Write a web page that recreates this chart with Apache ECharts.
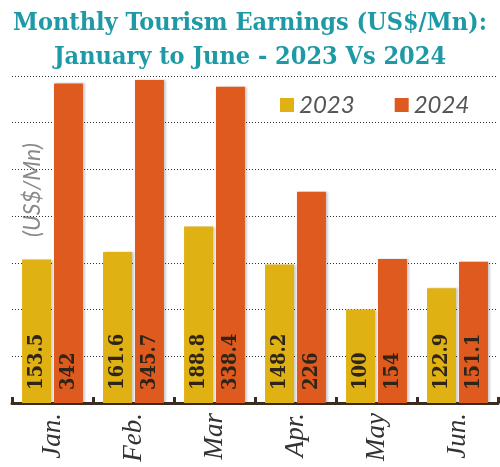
<!DOCTYPE html>
<html>
<head>
<meta charset="utf-8">
<script src="https://cdn.jsdelivr.net/npm/echarts@6/dist/echarts.min.js"></script>
<style>
  html, body { margin: 0; padding: 0; background: #fff; }
  #chart { width: 500px; height: 467px; }
</style>
</head>
<body>
<div id="chart"></div>
<script>
// data
const months = ['Jan.', 'Feb.', 'Mar', 'Apr.', 'May', 'Jun.'];
const earnings2023 = [153.5, 161.6, 188.8, 148.2, 100, 122.9];
const earnings2024 = [342, 345.7, 338.4, 226, 154, 151.1];
const seriesNames = ['2023', '2024'];

const barLabel = {
  show: true,
  position: 'insideBottom',
  rotate: 90,
  align: 'left',
  verticalAlign: 'middle',
  distance: 13,
  color: '#2e2418',
  fontFamily: 'DejaVu Serif Condensed',
  fontWeight: 'bold',
  fontSize: 20,
};

const chart = echarts.init(document.getElementById('chart'));
chart.setOption({
  animation: false,
  title: {
    text: 'Monthly Tourism Earnings (US$/Mn):\nJanuary to June - 2023 Vs 2024',
    left: 'center',
    top: 1,
    textStyle: {
      color: '#1d9aa5',
      fontFamily: 'DejaVu Serif Condensed',
      fontWeight: 'bold',
      fontSize: 25,
      lineHeight: 34,
    },
  },
  legend: {
    left: 275,
    top: 88,
    icon: 'rect',
    itemWidth: 14,
    itemHeight: 14,
    itemGap: 40,
    textStyle: {
      color: '#555',
      fontFamily: 'Lato',
      fontStyle: 'italic',
      fontSize: 24,
    },
  },
  graphic: [{
    type: 'text',
    x: 33,
    y: 190,
    rotation: Math.PI / 2,
    style: {
      text: '(US$/Mn)',
      fill: '#8a8a8a',
      fontFamily: 'Lato',
      fontStyle: 'italic',
      fontSize: 23,
      textAlign: 'center',
      textVerticalAlign: 'middle',
      backgroundColor: '#fff',
      padding: [0, 4],
    },
  }],
  grid: { left: 12, right: 2, top: 76, bottom: 64 },
  xAxis: {
    type: 'category',
    data: months,
    axisLine: { lineStyle: { color: '#3a2c20', width: 3 } },
    axisTick: { show: true, inside: true, length: 6, lineStyle: { color: '#3a2c20', width: 3 } },
    axisLabel: {
      rotate: 90,
      margin: 10,
      color: '#333',
      fontFamily: 'Liberation Serif',
      fontStyle: 'italic',
      fontSize: 27,
    },
  },
  yAxis: {
    type: 'value',
    min: 0,
    max: 350,
    interval: 50,
    axisLabel: { show: false },
    axisLine: { show: false },
    axisTick: { show: false },
    splitLine: { lineStyle: { color: '#333', type: [1, 2], width: 1 } },
  },
  series: [
    {
      name: seriesNames[0],
      type: 'bar',
      data: earnings2023,
      barWidth: 29,
      barGap: '10%',
      itemStyle: { color: '#e0b113', shadowColor: 'rgba(0,0,0,0.2)', shadowOffsetX: 2, shadowBlur: 2 },
      label: barLabel,
      z: 3,
    },
    {
      name: seriesNames[1],
      type: 'bar',
      data: earnings2024,
      barWidth: 29,
      itemStyle: { color: '#de5a1f', shadowColor: 'rgba(0,0,0,0.2)', shadowOffsetX: 2, shadowBlur: 2 },
      label: barLabel,
      z: 3,
    },
  ],
});
</script>
</body>
</html>
